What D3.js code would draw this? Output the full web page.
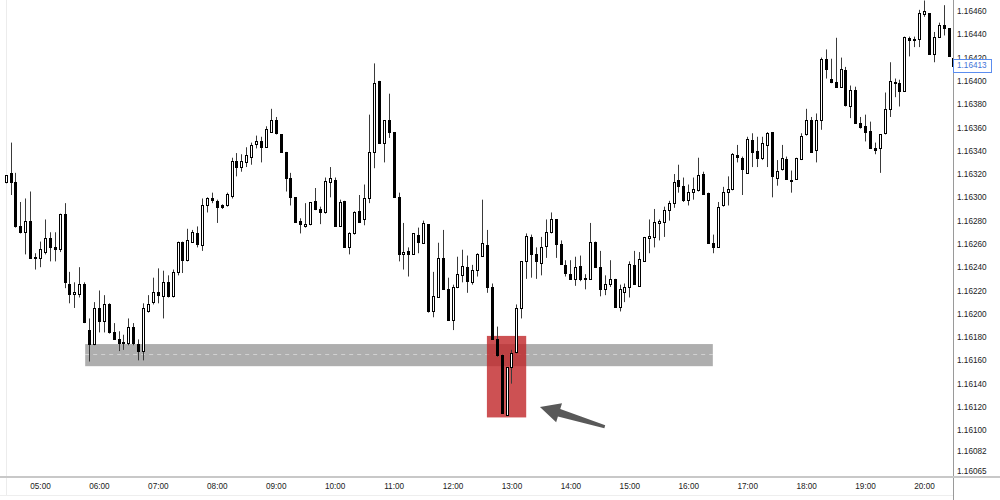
<!DOCTYPE html>
<html>
<head>
<meta charset="utf-8">
<script src="https://cdnjs.cloudflare.com/ajax/libs/d3/7.8.5/d3.min.js"></script>
<style>
body { margin: 0; background: #fff; }
svg { display: block; font-family: "Liberation Sans", Arial, sans-serif; }
.tick text { font-size: 8.2px; fill: #222; }
</style>
</head>
<body>
<script>
// 5 minute candles, 04:25 -> 20:30
var startTime = "04:25", endTime = "20:35";

var opens = [1.16313,1.16321,1.16313,1.16275,1.16270,1.16280,1.16249,1.16248,1.16253,1.16265,
1.16257,1.16256,1.16286,1.16226,1.16217,1.16217,1.16226,1.16186,1.16174,1.16205,
1.16194,1.16208,1.16184,1.16178,1.16176,1.16175,1.16189,1.16174,1.16168,1.16202,
1.16210,1.16219,1.16215,1.16227,1.16215,1.16236,1.16262,1.16246,1.16262,1.16269,
1.16259,1.16293,1.16299,1.16297,1.16293,1.16293,1.16301,1.16331,1.16326,1.16330,
1.16335,1.16346,1.16348,1.16343,1.16356,1.16366,1.16354,1.16339,1.16317,1.16300,
1.16280,1.16275,1.16277,1.16297,1.16290,1.16287,1.16313,1.16315,1.16275,1.16297,
1.16257,1.16269,1.16288,1.16281,1.16299,1.16339,1.16400,1.16347,1.16366,1.16356,
1.16300,1.16251,1.16254,1.16251,1.16268,1.16261,1.16277,1.16202,1.16214,1.16248,
1.16221,1.16195,1.16223,1.16233,1.16240,1.16227,1.16238,1.16250,1.16259,1.16223,
1.16178,1.16165,1.16113,1.16154,1.16167,1.16205,1.16245,1.16266,1.16251,1.16244,
1.16258,1.16270,1.16281,1.16260,1.16242,1.16234,1.16230,1.16241,1.16231,1.16230,
1.16262,1.16240,1.16221,1.16226,1.16230,1.16206,1.16219,1.16223,1.16242,1.16224,
1.16245,1.16265,1.16266,1.16278,1.16279,1.16289,1.16295,1.16315,1.16310,1.16298,
1.16305,1.16306,1.16320,1.16304,1.16261,1.16257,1.16293,1.16305,1.16307,1.16336,
1.16334,1.16321,1.16349,1.16340,1.16334,1.16345,1.16356,1.16317,1.16324,1.16333,
1.16315,1.16316,1.16333,1.16354,1.16366,1.16341,1.16366,1.16419,1.16402,1.16399,
1.16395,1.16409,1.16378,1.16392,1.16364,1.16361,1.16357,1.16342,1.16342,1.16355,
1.16376,1.16399,1.16398,1.16391,1.16437,1.16436,1.16436,1.16457,1.16458,1.16423,
1.16438,1.16448,1.16445,1.16420];

var highs = [1.16319,1.16347,1.16321,1.16296,1.16299,1.16305,1.16252,1.16262,1.16281,1.16270,
1.16270,1.16286,1.16295,1.16236,1.16227,1.16240,1.16227,1.16196,1.16210,1.16220,
1.16216,1.16209,1.16192,1.16185,1.16182,1.16196,1.16192,1.16178,1.16209,1.16216,
1.16231,1.16239,1.16237,1.16233,1.16238,1.16262,1.16262,1.16273,1.16272,1.16275,
1.16299,1.16300,1.16304,1.16298,1.16294,1.16304,1.16334,1.16338,1.16337,1.16343,
1.16347,1.16353,1.16352,1.16361,1.16376,1.16369,1.16354,1.16339,1.16321,1.16300,
1.16282,1.16295,1.16296,1.16308,1.16292,1.16317,1.16326,1.16317,1.16298,1.16297,
1.16270,1.16288,1.16302,1.16311,1.16371,1.16415,1.16400,1.16366,1.16389,1.16356,
1.16304,1.16278,1.16257,1.16269,1.16274,1.16280,1.16277,1.16236,1.16261,1.16272,
1.16231,1.16225,1.16249,1.16255,1.16250,1.16242,1.16252,1.16298,1.16272,1.16226,
1.16189,1.16165,1.16154,1.16169,1.16208,1.16245,1.16269,1.16268,1.16257,1.16266,
1.16281,1.16287,1.16281,1.16263,1.16246,1.16246,1.16249,1.16250,1.16234,1.16278,
1.16262,1.16254,1.16233,1.16246,1.16230,1.16225,1.16226,1.16245,1.16254,1.16253,
1.16266,1.16281,1.16290,1.16281,1.16292,1.16297,1.16320,1.16328,1.16317,1.16311,
1.16317,1.16334,1.16322,1.16304,1.16268,1.16296,1.16309,1.16318,1.16338,1.16345,
1.16335,1.16352,1.16355,1.16352,1.16352,1.16356,1.16356,1.16332,1.16345,1.16335,
1.16323,1.16334,1.16355,1.16376,1.16369,1.16372,1.16420,1.16427,1.16419,1.16437,
1.16420,1.16412,1.16396,1.16395,1.16369,1.16371,1.16365,1.16347,1.16354,1.16390,
1.16416,1.16402,1.16401,1.16438,1.16438,1.16438,1.16461,1.16469,1.16458,1.16442,
1.16450,1.16465,1.16445,1.16421];

var lows = [1.16312,1.16302,1.16274,1.16269,1.16251,1.16248,1.16238,1.16240,1.16251,1.16245,
1.16245,1.16253,1.16222,1.16209,1.16205,1.16214,1.16192,1.16159,1.16173,1.16184,
1.16184,1.16183,1.16178,1.16168,1.16169,1.16173,1.16173,1.16160,1.16160,1.16201,
1.16208,1.16209,1.16196,1.16214,1.16214,1.16233,1.16235,1.16245,1.16261,1.16257,
1.16254,1.16287,1.16295,1.16278,1.16290,1.16292,1.16299,1.16318,1.16322,1.16326,
1.16328,1.16342,1.16330,1.16343,1.16356,1.16354,1.16339,1.16305,1.16293,1.16279,
1.16269,1.16274,1.16276,1.16289,1.16277,1.16286,1.16300,1.16275,1.16275,1.16257,
1.16251,1.16268,1.16279,1.16276,1.16295,1.16325,1.16347,1.16330,1.16351,1.16300,
1.16245,1.16238,1.16232,1.16251,1.16252,1.16260,1.16201,1.16197,1.16214,1.16221,
1.16195,1.16186,1.16222,1.16227,1.16218,1.16225,1.16232,1.16249,1.16218,1.16178,
1.16163,1.16115,1.16113,1.16140,1.16166,1.16196,1.16230,1.16231,1.16230,1.16233,
1.16248,1.16269,1.16248,1.16242,1.16232,1.16229,1.16224,1.16228,1.16221,1.16229,
1.16240,1.16215,1.16216,1.16223,1.16205,1.16202,1.16210,1.16214,1.16225,1.16223,
1.16245,1.16252,1.16257,1.16263,1.16266,1.16280,1.16291,1.16304,1.16296,1.16293,
1.16298,1.16305,1.16302,1.16261,1.16252,1.16257,1.16292,1.16293,1.16306,1.16330,
1.16302,1.16321,1.16326,1.16326,1.16332,1.16326,1.16300,1.16310,1.16323,1.16316,
1.16304,1.16315,1.16332,1.16353,1.16339,1.16330,1.16358,1.16402,1.16398,1.16394,
1.16395,1.16378,1.16368,1.16364,1.16359,1.16348,1.16342,1.16337,1.16321,1.16354,
1.16369,1.16386,1.16378,1.16391,1.16421,1.16429,1.16429,1.16455,1.16423,1.16416,
1.16438,1.16439,1.16421,1.16413];

var closes = [1.16319,1.16313,1.16275,1.16270,1.16280,1.16248,1.16248,1.16256,1.16265,1.16257,
1.16256,1.16286,1.16227,1.16217,1.16219,1.16226,1.16193,1.16174,1.16205,1.16194,
1.16208,1.16184,1.16178,1.16175,1.16175,1.16189,1.16175,1.16168,1.16205,1.16208,
1.16219,1.16216,1.16227,1.16215,1.16236,1.16262,1.16246,1.16263,1.16270,1.16260,
1.16293,1.16299,1.16298,1.16292,1.16292,1.16303,1.16331,1.16326,1.16331,1.16336,
1.16345,1.16348,1.16343,1.16359,1.16366,1.16355,1.16339,1.16317,1.16300,1.16279,
1.16277,1.16277,1.16296,1.16290,1.16287,1.16314,1.16317,1.16275,1.16296,1.16257,
1.16269,1.16287,1.16279,1.16299,1.16339,1.16398,1.16347,1.16366,1.16356,1.16300,
1.16251,1.16253,1.16251,1.16269,1.16262,1.16278,1.16202,1.16215,1.16248,1.16221,
1.16195,1.16223,1.16234,1.16241,1.16228,1.16238,1.16251,1.16261,1.16223,1.16178,
1.16165,1.16115,1.16154,1.16166,1.16205,1.16245,1.16267,1.16251,1.16245,1.16257,
1.16270,1.16281,1.16260,1.16243,1.16235,1.16230,1.16240,1.16230,1.16230,1.16262,
1.16240,1.16221,1.16226,1.16230,1.16206,1.16221,1.16223,1.16243,1.16226,1.16247,
1.16266,1.16267,1.16279,1.16280,1.16289,1.16295,1.16313,1.16310,1.16298,1.16305,
1.16307,1.16319,1.16303,1.16261,1.16257,1.16292,1.16305,1.16307,1.16337,1.16335,
1.16324,1.16350,1.16339,1.16334,1.16347,1.16355,1.16318,1.16323,1.16334,1.16316,
1.16314,1.16334,1.16353,1.16366,1.16339,1.16366,1.16419,1.16410,1.16399,1.16395,
1.16410,1.16379,1.16392,1.16364,1.16360,1.16356,1.16342,1.16341,1.16354,1.16376,
1.16400,1.16398,1.16391,1.16438,1.16435,1.16435,1.16458,1.16460,1.16423,1.16438,
1.16448,1.16445,1.16421,1.16413];

// axis labels
var yTicks = [1.16065,1.16082,1.16100,1.16120,1.16140,1.16160,1.16180,1.16200,1.16220,1.16240,
  1.16260,1.16280,1.16300,1.16320,1.16340,1.16360,1.16380,1.16400,1.16420,1.16440,1.16460];
var xTicks = ["05:00","06:00","07:00","08:00","09:00","10:00","11:00","12:00",
  "13:00","14:00","15:00","16:00","17:00","18:00","19:00","20:00"];
var lastPrice = 1.16413;

// annotations
var zoneTimes = ["05:46", "16:25"], zonePrices = [1.16155, 1.16174], zoneMid = 1.16165;
var boxTimes = ["12:35", "13:15"], boxPrices = [1.16111, 1.16181];
var arrowFrom = ["14:35", 1.16103], arrowTo = ["13:29", 1.16120];

var W = 1000, H = 500, plotRight = 953, plotBottom = 477;
var parseT = d3.timeParse("%H:%M");

var x = d3.scaleTime().domain([parseT("05:00"), parseT("20:00")]).range([40, 924]);
var y = d3.scaleLinear().domain([1.16065, 1.16460]).range([471, 11]);

var times = d3.timeMinute.every(5).range(parseT(startTime), parseT(endTime));
var candles = times.map(function(t, i) {
  return {t: t, o: opens[i], h: highs[i], l: lows[i], c: closes[i]};
});

var svg = d3.select("body").append("svg").attr("width", W).attr("height", H);

svg.append("clipPath").attr("id", "plot")
   .append("rect").attr("x", 0).attr("y", 0).attr("width", plotRight).attr("height", plotBottom);

// frame lines
svg.append("line").attr("x1", 6.5).attr("x2", 6.5).attr("y1", 0).attr("y2", 495)
   .attr("stroke", "#ececec");
svg.append("line").attr("x1", 0).attr("x2", plotRight).attr("y1", 495.5).attr("y2", 495.5)
   .attr("stroke", "#eeeeee");

var plot = svg.append("g").attr("clip-path", "url(#plot)");

// grey support zone
var zx0 = x(parseT(zoneTimes[0])), zx1 = x(parseT(zoneTimes[1]));
plot.append("rect")
    .attr("x", zx0).attr("width", zx1 - zx0)
    .attr("y", y(zonePrices[1])).attr("height", y(zonePrices[0]) - y(zonePrices[1]))
    .attr("fill", "rgb(120,120,120)").attr("fill-opacity", 0.6);
plot.append("line")
    .attr("x1", zx0).attr("x2", zx1).attr("y1", y(zoneMid)).attr("y2", y(zoneMid))
    .attr("stroke", "#fff").attr("stroke-opacity", 0.45).attr("stroke-dasharray", "4,4");

// red highlight box
var bx0 = x(parseT(boxTimes[0])), bx1 = x(parseT(boxTimes[1]));
plot.append("rect")
    .attr("x", bx0).attr("width", bx1 - bx0)
    .attr("y", y(boxPrices[1])).attr("height", y(boxPrices[0]) - y(boxPrices[1]))
    .attr("fill", "rgb(192,38,40)").attr("fill-opacity", 0.8);

// candles
var cg = plot.selectAll(".candle").data(candles).enter().append("g").attr("class", "candle");
cg.append("line")
  .attr("x1", function(d) { return Math.round(x(d.t)) + 0.5; })
  .attr("x2", function(d) { return Math.round(x(d.t)) + 0.5; })
  .attr("y1", function(d) { return y(d.h); })
  .attr("y2", function(d) { return y(d.l); })
  .attr("stroke", "#3a3a3a").attr("stroke-width", 1);
cg.append("rect")
  .attr("x", function(d) { return Math.round(x(d.t)) - 0.5; })
  .attr("width", 2)
  .attr("y", function(d) { return Math.round(y(Math.max(d.o, d.c))) + 0.5; })
  .attr("height", function(d) {
    return Math.max(1, Math.round(y(Math.min(d.o, d.c))) - Math.round(y(Math.max(d.o, d.c))));
  })
  .attr("fill", function(d) { return d.c >= d.o ? "#fff" : "#000"; })
  .attr("stroke", "#000").attr("stroke-width", 1);

// arrow pointing at the sweep
var p0 = [x(parseT(arrowFrom[0])), y(arrowFrom[1])],
    p1 = [x(parseT(arrowTo[0])), y(arrowTo[1])];
var adx = p1[0] - p0[0], ady = p1[1] - p0[1], alen = Math.sqrt(adx * adx + ady * ady);
var ux = adx / alen, uy = ady / alen, nx = -uy, ny = ux;
var headLen = 20, headW = 10, neckW = 4, tailW = 1.5;
var nk = [p1[0] - ux * headLen, p1[1] - uy * headLen];
var arrowPts = [
  [p0[0] + nx * tailW, p0[1] + ny * tailW],
  [nk[0] + nx * neckW, nk[1] + ny * neckW],
  [nk[0] + nx * headW, nk[1] + ny * headW],
  p1,
  [nk[0] - nx * headW, nk[1] - ny * headW],
  [nk[0] - nx * neckW, nk[1] - ny * neckW],
  [p0[0] - nx * tailW, p0[1] - ny * tailW]
];
svg.append("path")
   .attr("d", d3.line()(arrowPts) + "Z")
   .attr("fill", "#595959");

// right price axis
svg.append("line").attr("x1", plotRight + 0.5).attr("x2", plotRight + 0.5)
   .attr("y1", 0).attr("y2", H).attr("stroke", "#9a9a9a");
var gy = svg.append("g").attr("transform", "translate(" + plotRight + ",0)")
   .call(d3.axisRight(y).tickValues(yTicks).tickSize(0).tickPadding(4)
         .tickFormat(d3.format(".5f")))
   .attr("font-family", null).attr("font-size", null);
gy.select(".domain").remove();

// bottom time axis
svg.append("line").attr("x1", 0).attr("x2", W).attr("y1", plotBottom).attr("y2", plotBottom)
   .attr("stroke", "#c8c8c8").attr("stroke-width", 2);
var gx = svg.append("g").attr("transform", "translate(0," + plotBottom + ")")
   .call(d3.axisBottom(x).tickValues(xTicks.map(parseT)).tickSize(0).tickPadding(6)
         .tickFormat(d3.timeFormat("%H:%M")))
   .attr("font-family", null).attr("font-size", null);
gx.select(".domain").remove();

// last price tag
var ly = y(lastPrice);
svg.append("rect")
   .attr("x", plotRight + 0.5).attr("y", Math.round(ly) - 6.5)
   .attr("width", 38).attr("height", 13)
   .attr("fill", "#fff").attr("stroke", "#5b8def");
svg.append("text")
   .attr("x", plotRight + 4).attr("y", ly).attr("dy", "0.32em")
   .attr("font-size", "8.2px").attr("fill", "#3f73d8")
   .text(d3.format(".5f")(lastPrice));
</script>
</body>
</html>
